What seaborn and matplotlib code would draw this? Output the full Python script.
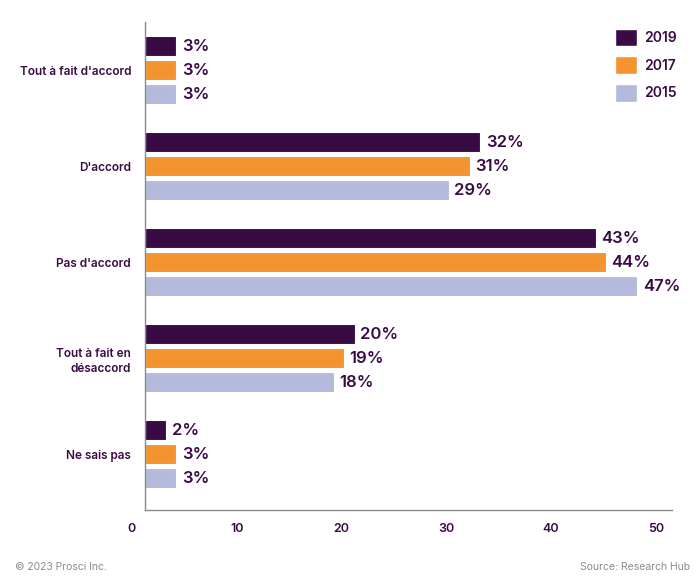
import pandas as pd
import matplotlib.pyplot as plt
import matplotlib.transforms as mtransforms
from matplotlib.patches import Patch
import seaborn as sns

# Data
categories = ["Tout à fait d'accord", "D'accord", "Pas d'accord",
              "Tout à fait en\ndésaccord", "Ne sais pas"]
years = ["2019", "2017", "2015"]
values_2019 = [3, 32, 43, 20, 2]
values_2017 = [3, 31, 44, 19, 3]
values_2015 = [3, 29, 47, 18, 3]
xticks = [0, 10, 20, 30, 40, 50]

colors = {"2019": "#3A0A45", "2017": "#F39431", "2015": "#B3BADB"}
text_color = "#3A0A45"

df = pd.DataFrame({
    "categorie": categories * 3,
    "annee": ["2019"] * 5 + ["2017"] * 5 + ["2015"] * 5,
    "valeur": values_2019 + values_2017 + values_2015,
})

sns.set_style("white")
plt.rcParams['font.family'] = ['Inter', 'DejaVu Sans']

fig = plt.figure(figsize=(7, 5.86), dpi=100)
ax = fig.add_axes([145 / 700, 1 - 510 / 586, (672 - 145) / 700, (510 - 22) / 586])

sns.barplot(data=df, y="categorie", x="valeur", hue="annee", hue_order=years,
            palette=colors, saturation=1, orient="h", width=0.75, gap=0.17,
            edgecolor="white", linewidth=0.8, legend=False, ax=ax)

# value labels
for container, year in zip(ax.containers, years):
    labels = [f"{v:.0f}%" for v in container.datavalues]
    ax.bar_label(container, labels=labels, padding=4, fontsize=12,
                 fontweight="semibold", color=text_color)

ax.set_xlim(0, 50.3)
ax.set_ylim(4.58, -0.5)
ax.set_xticks(xticks)
ax.set_xticklabels([str(t) for t in xticks])
ax.set_xlabel("")
ax.set_ylabel("")
ax.tick_params(axis="x", length=0, pad=9, labelsize=9, labelcolor=text_color)
ax.tick_params(axis="y", length=0, pad=10, labelsize=8.5, labelcolor=text_color)
for lab in ax.get_xticklabels():
    lab.set_fontweight("semibold")
    lab.set_transform(lab.get_transform() +
                      mtransforms.ScaledTranslation(-13 / 100, 0, fig.dpi_scale_trans))
for lab in ax.get_yticklabels():
    lab.set_fontweight("semibold")
    lab.set_horizontalalignment("right")
    lab.set_multialignment("right")
    lab.set_linespacing(1.4)

for side in ["top", "right"]:
    ax.spines[side].set_visible(False)
for side in ["left", "bottom"]:
    ax.spines[side].set_color("#8a8a8a")
    ax.spines[side].set_linewidth(1)

handles = [Patch(facecolor=colors[y], edgecolor="white", label=y) for y in years]
leg = fig.legend(handles=handles, loc="upper right", bbox_to_anchor=(682 / 700, 1 - 23 / 586),
                 frameon=False, fontsize=10, handlelength=1.6, handleheight=1.6,
                 labelspacing=0.7, handletextpad=0.5, borderaxespad=0)
for t in leg.get_texts():
    t.set_color(text_color)
    t.set_fontweight("semibold")

fig.text(15 / 700, 1 - 567 / 586, "© 2023 Prosci Inc.", fontsize=7.5, color="#8a8a8a",
         va="center", ha="left")
fig.text(690 / 700, 1 - 567 / 586, "Source: Research Hub", fontsize=7.5, color="#8a8a8a",
         va="center", ha="right")

fig.savefig("out.png", dpi=100)
